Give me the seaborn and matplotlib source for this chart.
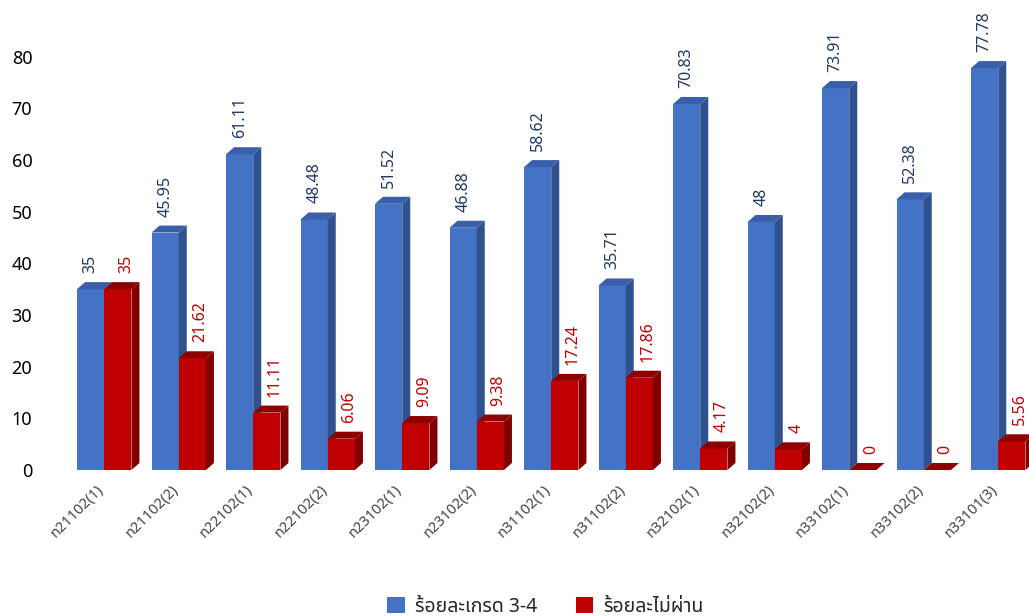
import numpy as np
import pandas as pd
import matplotlib
matplotlib.use("Agg")
import matplotlib.pyplot as plt
from matplotlib.patches import Polygon, Patch
from matplotlib.transforms import ScaledTranslation
import seaborn as sns

# ---- data ----
courses = ["ท21102(1)", "ท21102(2)", "ท22102(1)", "ท22102(2)", "ท23102(1)",
           "ท23102(2)", "ท31102(1)", "ท31102(2)", "ท32102(1)", "ท32102(2)",
           "ท33102(1)", "ท33102(2)", "ท33101(3)"]
grade34 = [35, 45.95, 61.11, 48.48, 51.52, 46.88, 58.62, 35.71, 70.83, 48, 73.91, 52.38, 77.78]
failed = [35, 21.62, 11.11, 6.06, 9.09, 9.38, 17.24, 17.86, 4.17, 4, 0, 0, 5.56]
series_names = ["ร้อยละเกรด 3-4", "ร้อยละไม่ผ่าน"]

front_colors = ["#4472C4", "#C00000"]
side_colors = ["#2F528F", "#800000"]
top_colors = ["#3A5FA8", "#8E0000"]
label_colors = ["#1F3864", "#C00000"]
label_shift = [0, 8]  # pixels, red labels sit a bit to the right in the original

df = pd.DataFrame({
    "course": courses * 2,
    "value": grade34 + failed,
    "series": [series_names[0]] * len(courses) + [series_names[1]] * len(courses),
})

sns.set_theme(style="white")
plt.rcParams["font.family"] = ["Noto Sans Thai", "Noto Sans", "DejaVu Sans"]

fig = plt.figure(figsize=(10.29, 6.16), dpi=100)
ax = fig.add_axes([67 / 1029, 0.237, 968.5 / 1029, 0.755])

sns.barplot(data=df, x="course", y="value", hue="series", palette=front_colors,
            width=0.73, saturation=1, dodge=True, legend=False, ax=ax)

ax.set_ylim(0, 90)
ax.set_xlim(-0.5, len(courses) - 0.5)

# pixel -> data scale for the fake 3D depth
bbox = ax.get_window_extent()
px_x = bbox.width / (len(courses))
px_y = bbox.height / 90.0
dx = 8 / px_x
dy = 7 / px_y

for si, cont in enumerate(ax.containers):
    z = 2 + si
    for bar in cont:
        x0 = bar.get_x()
        w = bar.get_width()
        h = bar.get_height()
        x1 = x0 + w
        bar.set_zorder(z)
        bar.set_edgecolor("none")
        side = Polygon([(x1, 0), (x1 + dx, dy), (x1 + dx, h + dy), (x1, h)],
                       closed=True, facecolor=side_colors[si], edgecolor="none", zorder=z)
        top = Polygon([(x0, h), (x0 + dx, h + dy), (x1 + dx, h + dy), (x1, h)],
                      closed=True, facecolor=top_colors[si], edgecolor="none", zorder=z)
        ax.add_patch(side)
        ax.add_patch(top)
        ax.annotate(f"{h:g}", (x0 + w / 2, h), xytext=(label_shift[si], 16),
                    textcoords="offset pixels", rotation=90, ha="center", va="bottom",
                    fontsize=11.5, color=label_colors[si], zorder=5)

ax.set_xlabel("")
ax.set_ylabel("")
ax.set_yticks(range(0, 90, 10))
ax.set_yticklabels([str(v) for v in range(0, 90, 10)], fontsize=13, color="#000000")
ax.tick_params(axis="y", length=0, pad=25)
ax.tick_params(axis="x", length=0, pad=9)
shift = ScaledTranslation(-8 / 100, 0, fig.dpi_scale_trans)
for lbl in ax.get_xticklabels():
    lbl.set_rotation(45)
    lbl.set_ha("right")
    lbl.set_rotation_mode("anchor")
    lbl.set_fontsize(10.5)
    lbl.set_color("#404040")
    lbl.set_transform(lbl.get_transform() + shift)
for s in ax.spines.values():
    s.set_visible(False)

handles = [Patch(facecolor=c, edgecolor="none") for c in front_colors]
fig.legend(handles, series_names, loc="lower center", bbox_to_anchor=(0.53, -0.03),
           ncol=2, frameon=False, prop={"size": 14, "weight": "semibold"},
           handlelength=0.9, handleheight=0.9, columnspacing=2.0, handletextpad=0.5)

fig.savefig("out.png", dpi=100)
